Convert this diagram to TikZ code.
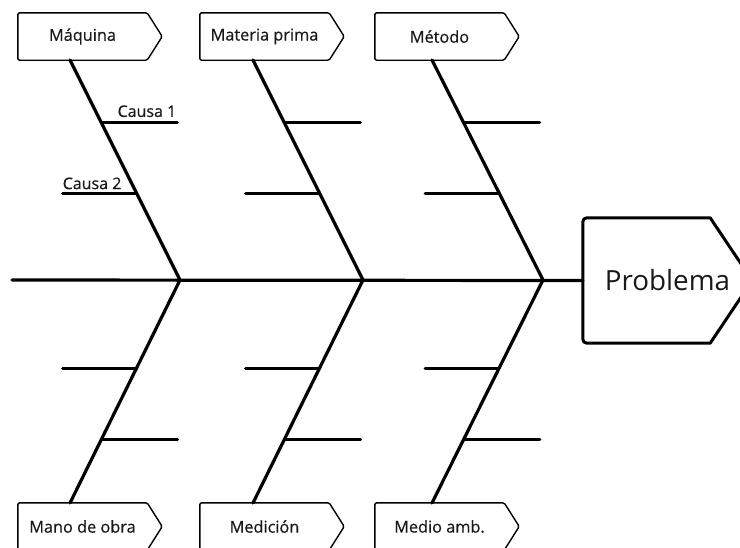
\documentclass[tikz,border=0pt]{standalone}
\usepackage{fontspec}
\setmainfont{Open Sans}
\newfontfamily\labelfont[FakeBold=0.5]{Open Sans}
\usetikzlibrary{calc}

\tikzset{
  bone/.style={line width=3.2pt, line cap=round},
  twig/.style={line width=3pt, line cap=round},
  % category tag: node is the rectangular body, the outline adds a pointed right end
  tag/.style={rectangle, minimum width=129pt, minimum height=47pt, inner sep=0pt,
    font=\labelfont\fontsize{16.3}{18}\selectfont, text=black!90,
    append after command={\pgfextra{\let\tagnode\tikzlastnode
      \draw[line width=1.4pt, rounded corners=1.5pt, line join=round]
        (\tagnode.north west) -- (\tagnode.north east) -- ([xshift=15pt]\tagnode.east)
        -- (\tagnode.south east) -- (\tagnode.south west) -- cycle;}}},
  % effect box: node spans the whole shape, pointer drawn inside its right part
  headbox/.style={rectangle, minimum width=169pt, minimum height=125pt, inner sep=0pt,
    font=\fontsize{27.8}{30}\selectfont, text=black!90,
    append after command={\pgfextra{\let\headnode\tikzlastnode
      \draw[line width=3pt, line join=round]
        ([xshift=4pt]\headnode.north west) -- ([xshift=-42pt]\headnode.north east)
        -- (\headnode.east) -- ([xshift=-42pt]\headnode.south east)
        -- ([xshift=4pt]\headnode.south west)
        arc[start angle=270, end angle=180, radius=4pt]
        -- ([yshift=-4pt]\headnode.north west)
        arc[start angle=180, end angle=90, radius=4pt] -- cycle;}}},
  cause/.style={font=\labelfont\fontsize{16}{18}\selectfont, text=black!90, inner sep=0pt}
}

\begin{document}
\begin{tikzpicture}[x=1pt, y=-1pt]
  \useasboundingbox (0,0) rectangle (740,547);
  \clip (0,0) rectangle (740,547);

  % effect
  \node[headbox] (prob) at (667.5,280.5) {Problema};

  % category tags
  \node[tag] (maq) at (82.5,36.5)  {Máquina};
  \node[tag] (mat) at (264.5,36.5) {Materia prima};
  \node[tag] (met) at (439.5,36.5) {Método};
  \node[tag] (man) at (82.5,526.5)  {Mano de obra};
  \node[tag] (med) at (264.5,526.5) {Medición};
  \node[tag] (amb) at (439.5,526.5) {Medio amb.};

  % junctions on the spine
  \coordinate (j1) at (180,280);
  \coordinate (j2) at (363,280);
  \coordinate (j3) at (543,280);
  \coordinate (tail) at (12,280);

  % rib ends at the tags
  \coordinate (u1) at (70,60);   \coordinate (d1) at (70,503);
  \coordinate (u2) at (253,60);  \coordinate (d2) at (253,503);
  \coordinate (u3) at (432,60);  \coordinate (d3) at (432,503);

  % spine
  \draw[bone] (tail) -- (prob.west);

  % ribs and their branches
  \foreach \j/\u/\d in {j1/u1/d1, j2/u2/d2, j3/u3/d3}{
    \draw[bone] (\u) -- (\j) -- (\d);
    \coordinate (\j-a) at ($(\u)!0.286!(\j)$);
    \coordinate (\j-b) at ($(\u)!0.605!(\j)$);
    \coordinate (\j-c) at ($(\j)!0.395!(\d)$);
    \coordinate (\j-e) at ($(\j)!0.713!(\d)$);
    \draw[twig] (\j-a) -- ++(76,0);
    \draw[twig] (\j-b) -- ++(-74,0);
    \draw[twig] (\j-c) -- ++(-74,0);
    \draw[twig] (\j-e) -- ++(76,0);
  }

  % sample cause labels
  \node[cause, anchor=base east] (c1) at ($(j1-a)+(75,-6)$) {Causa 1};
  \node[cause, anchor=base west] (c2) at ($(j1-b)+(-74,-4)$) {Causa 2};
\end{tikzpicture}
\end{document}
